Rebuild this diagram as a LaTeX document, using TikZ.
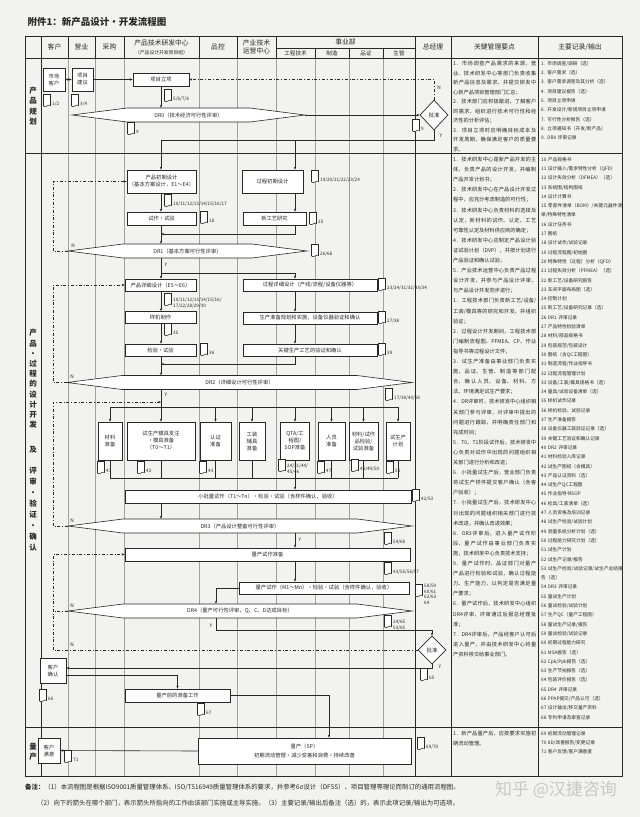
\documentclass[tikz,border=0pt]{standalone}
\usepackage{fontspec}
\setmainfont{Noto Sans CJK SC}
\XeTeXlinebreaklocale "zh"
\XeTeXlinebreakskip = 0pt plus 1pt
\usepackage{xcolor}
\usepackage{tikz}
\usetikzlibrary{shapes.geometric, arrows.meta, positioning, calc}
\definecolor{paper}{RGB}{242,242,240}
\definecolor{ink}{RGB}{40,40,40}
\definecolor{rulegray}{RGB}{160,160,160}
\definecolor{wmark}{RGB}{200,200,200}
\tikzset{
  flowbox/.style={rectangle, draw=ink, fill=white, line width=0.7pt,
    align=center, inner sep=0pt, text=ink, font=\fontsize{5.3}{7}\selectfont},
  drbox/.style={rectangle, inner sep=0pt, minimum height=14pt,
    text=ink, font=\fontsize{5.3}{7}\selectfont},
  approve/.style={diamond, draw=ink, fill=white, line width=0.7pt,
    minimum width=28pt, minimum height=28pt, inner sep=0pt,
    text=ink, font=\fontsize{5.5}{7}\selectfont},
  arrow/.style={-{Stealth[length=3pt,width=2.4pt]}, line width=0.6pt, color=ink},
  twoway/.style={{Stealth[length=3pt,width=2.4pt]}-{Stealth[length=3pt,width=2.4pt]},
    line width=0.6pt, color=ink},
  line/.style={line width=0.6pt, color=ink},
  loopline/.style={-{Stealth[length=3pt,width=2.4pt]}, line width=0.6pt,
    color=ink, dash dot},
  hdr/.style={text=ink, align=center, inner sep=0pt, font=\fontsize{6.8}{8.6}\selectfont},
  subhdr/.style={text=ink, align=center, inner sep=0pt, font=\fontsize{5.6}{7}\selectfont},
  phase/.style={text=ink, align=center, inner sep=0pt, font=\fontsize{7.5}{10.5}\selectfont\bfseries},
  doclbl/.style={anchor=west, text=ink, align=left, inner sep=0.5pt,
    font=\fontsize{4.6}{5.6}\selectfont},
  yn/.style={text=ink, inner sep=0.5pt, font=\fontsize{4.8}{5}\selectfont},
  keytext/.style={anchor=north west, text=ink, text width=83pt, align=justify,
    inner sep=0pt, font=\fontsize{5.2}{9.5}\selectfont},
  rectext/.style={anchor=north west, text=ink, text width=82pt, align=left,
    inner sep=0pt, font=\fontsize{4.7}{9.3}\selectfont},
  docu/.pic={\draw[line width=0.55pt, draw=ink, fill=white]
    (-3.5,-6.5) -- (3.5,-6.5) -- (3.5,4.5) .. controls (1.5,2.5) and (-1,7.5) .. (-3.5,5) -- cycle;}
}
% DR review shape: name, left, right, y, text
\newcommand{\drshape}[5]{%
  \draw[line, fill=white] (#2,#4) -- (#2+55,#4-7) -- (#3-55,#4-7) -- (#3,#4)
    -- (#3-55,#4+7) -- (#2+55,#4+7) -- cycle;
  \node[drbox, minimum width={(#3-#2)*1pt}] (#1) at ({(#2+#3)/2},#4) {#5};
}
% record icon: name, x, y, label
\newcommand{\docnote}[4]{%
  \pic at (#2,#3) {docu};
  \node[doclbl] (#1) at (#2+4.5,#3+3) {#4};
}

\begin{document}
\begin{tikzpicture}[x=1pt, y=-1pt]
  \fill[paper] (0,0) rectangle (640,817);
  \useasboundingbox (0,0) rectangle (640,817);

  \node[anchor=west, text=ink, font=\fontsize{9.5}{11}\selectfont\bfseries] (title) at (24,22) {附件1：新产品设计・开发流程图};

  % Table frame and rules
  \foreach \x in {68,95,124,199,237,276,315,349,383} \draw[thin, rulegray] (\x,58) -- (\x,776);
  \draw[line width=0.9pt, ink] (25,36) rectangle (622,776);
  \foreach \y in {58,153,727} \draw[line width=0.7pt, ink] (25,\y) -- (622,\y);
  \draw[line] (276,48) -- (415,48);
  \foreach \x in {68,95,124,199,237,276} \draw[line] (\x,36) -- (\x,58);
  \foreach \x in {315,349,383} \draw[line] (\x,48) -- (\x,58);
  \foreach \x in {41,415,451,538} \draw[line width=0.7pt, ink] (\x,36) -- (\x,776);

  % Header
  \node[hdr] (hcust) at (54.5,47) {客户};
  \node[hdr] (hsale) at (81.5,47) {营业};
  \node[hdr] (hbuy) at (109.5,47) {采购};
  \node[hdr] (hrd) at (161.5,42.5) {产品技术研发中心};
  \node[subhdr, font=\fontsize{4.8}{6}\selectfont] (hrdsub) at (161.5,52.5) {（产品设计开发项目组）};
  \node[hdr] (hqc) at (218,47) {品控};
  \node[hdr] (hops) at (256.5,47) {产业技术\\运营中心};
  \node[hdr] (hbu) at (345.5,42) {事业部};
  \node[subhdr] (heng) at (295.5,53) {工程技术};
  \node[subhdr] (hmfg) at (332,53) {制造};
  \node[subhdr] (hqa) at (366,53) {品证};
  \node[subhdr] (hpc) at (399,53) {生管};
  \node[hdr] (hgm) at (433,47) {总经理};
  \node[hdr] (hkey) at (494.5,47) {关键管理要点};
  \node[hdr] (hrec) at (580,47) {主要记录/输出};

  % Phase labels
  \node[phase] (ph1) at (33,106) {产\\品\\规\\划};
  \node[phase, font=\fontsize{7.5}{10.2}\selectfont\bfseries] (ph2a) at (33,379) {产\\品\\・\\过\\程\\的\\设\\计\\开\\发};
  \node[phase] (ph2b) at (33,450) {及};
  \node[phase, font=\fontsize{7.5}{11}\selectfont\bfseries] (ph2c) at (33,509) {评\\审\\・\\验\\证\\・\\确\\认};
  \node[phase] (ph3) at (33,752) {量\\产};

  \coordinate (colA) at (161,0);
  \coordinate (colB) at (295,0);
  \coordinate (colC) at (216,0);
  \coordinate (lx) at (53,0);

  % Product planning
  \node[flowbox, minimum width=22pt, minimum height=23pt] (mkt) at (54,79.5) {市场\\客户};
  \node[flowbox, minimum width=21pt, minimum height=23pt] (sug) at (82.5,79.5) {项目\\建议};
  \node[flowbox, minimum width=56pt, minimum height=13pt] (proj) at (161,79.5) {项目立项};
  \drshape{dr0}{72}{305}{115}{DR0（技术经济可行性评审）}
  \node[approve, minimum height=30pt] (appr) at (434,115) {批准};
  \coordinate (yrow) at (0,140);

  \draw[twoway] (mkt) -- (sug);
  \draw[arrow] (sug) -- (proj);
  \draw[arrow] (proj) -- (proj |- dr0.north);
  \draw[arrow] (dr0.east) -- (appr.west);
  \draw[loopline] (appr.north) |- (proj.east);
  \node[yn] (n0) at (439,88) {N};
  \node[yn] (y0) at (441,136) {Y};

  \docnote{d12}{47}{101}{1/2}
  \docnote{d34}{75}{101}{3/4}
  \docnote{d58}{168}{96}{5/6/7/8}
  \docnote{d9a}{131}{129}{9}
  \docnote{d9b}{416}{126}{9}

  % Design & development: initial design
  \node[flowbox, minimum width=69pt, minimum height=23pt] (pinit) at (161.5,181.5) {产品初期设计\\（基本方案设计，E1～E4）};
  \node[flowbox, minimum width=61pt, minimum height=23pt] (cinit) at (272.5,181.5) {过程初期设计};
  \node[flowbox, minimum width=69pt, minimum height=13pt] (ptry) at (161.5,218.5) {试作・试验};
  \node[flowbox, minimum width=63pt, minimum height=13pt] (cnew) at (274.5,218.5) {新工艺研究};
  \drshape{dr1}{68}{307}{251}{DR1（基本方案可行性评审）}
  \coordinate (j1) at (0,234);

  \draw[line] (appr.south) |- (colA |- yrow);
  \draw[arrow] (colA |- yrow) -- (colA |- pinit.north);
  \draw[arrow] (colB |- yrow) -- (colB |- cinit.north);
  \draw[arrow] (colA |- pinit.south) -- (colA |- ptry.north);
  \draw[arrow] (colA |- ptry.south) -- (colA |- dr1.north);
  \draw[arrow] (colB |- cinit.south) -- (colB |- cnew.north);
  \draw[arrow] (colB |- cnew.south) |- (colA |- j1);
  \draw[loopline] (dr1.west) -- (lx |- dr1.west) |- (pinit.west);
  \node[yn] (n1) at (73,246) {N};
  \node[yn] (y1) at (166,265) {Y};

  \docnote{d10}{168}{201}{10/11/12/13/14/15/16/17}
  \docnote{d19}{315}{177}{19/20/21/22/23/24}
  \docnote{d18}{204}{218}{18}
  \docnote{d25}{313}{219}{25}
  \docnote{d26}{315}{251}{26/68}

  % Design & development: detailed design
  \node[flowbox, minimum width=71pt, minimum height=12pt] (pdet) at (160.5,285) {产品详细设计（E5～E6）};
  \node[flowbox, minimum width=134pt, minimum height=12pt] (cdet) at (310,285) {过程详细设计（产线/流程/设备仪器等）};
  \node[flowbox, minimum width=71pt, minimum height=12pt] (psam) at (160.5,317.5) {样机制作};
  \node[flowbox, minimum width=71pt, minimum height=12pt] (ptest) at (160.5,350) {检验・试验};
  \node[flowbox, minimum width=134pt, minimum height=12pt] (cprep) at (310,318) {生产准备规划和实施，设备仪器验证和确认};
  \node[flowbox, minimum width=134pt, minimum height=12pt] (ckey) at (310,350) {关键生产工艺的验证和确认};
  \drshape{dr2}{67}{412}{382.5}{DR2（详细设计可行性评审）}
  \coordinate (fork2) at (0,273);
  \coordinate (j2) at (0,364);

  \draw[arrow] (colA |- dr1.south) -- (colA |- pdet.north);
  \draw[arrow] (colA |- fork2) -| (colB |- cdet.north);
  \draw[arrow] (colA |- pdet.south) -- (colA |- psam.north);
  \draw[arrow] (colA |- psam.south) -- (colA |- ptest.north);
  \draw[arrow] (colA |- ptest.south) -- (colA |- dr2.north);
  \draw[arrow] (colB |- cdet.south) -- (colB |- cprep.north);
  \draw[arrow] (colB |- cprep.south) -- (colB |- ckey.north);
  \draw[arrow] (colB |- ckey.south) |- (colA |- j2);
  \draw[loopline] (dr2.west) -- (lx |- dr2.west) |- (pdet.west);
  \node[yn] (n2) at (72,377) {N};
  \node[yn] (y2) at (166,395) {Y};

  \docnote{d10b}{168}{300}{10/11/12/13/14/15/16/\\17/22/28/29/30}
  \docnote{d23}{382}{285}{23/24/31/32/33/34}
  \docnote{d35}{168}{330}{35}
  \docnote{d36}{204}{350}{36}
  \docnote{d27}{382}{318}{27/38}
  \docnote{d39}{382}{350}{39}
  \docnote{d40}{389}{395}{17/38/40/68}

  % Trial production preparation
  \node[flowbox, minimum width=24pt, minimum height=38pt] (b1) at (110,441) {材料\\准备};
  \node[flowbox, minimum width=68pt, minimum height=38pt] (b2) at (161,441) {试生产模具发注\\・模具准备\\（T0～T1）};
  \node[flowbox, minimum width=31pt, minimum height=38pt] (b3) at (215.5,441) {认证\\准备};
  \node[flowbox, minimum width=26pt, minimum height=38pt] (b4) at (252,441) {工装\\辅具\\准备};
  \node[flowbox, minimum width=29pt, minimum height=38pt] (b5) at (295,441) {QTA/工\\程图/\\SOP准备};
  \node[flowbox, minimum width=27pt, minimum height=38pt] (b6) at (331.5,441) {人员\\准备};
  \node[flowbox, minimum width=29pt, minimum height=38pt] (b7) at (363.5,441) {材料/试作\\品检验/\\试验准备};
  \node[flowbox, minimum width=24pt, minimum height=38pt] (b8) at (398,441) {试生产\\计划};
  \coordinate (dist) at (0,407);
  \coordinate (coll) at (0,478);
  \coordinate (j3) at (0,402);

  \draw[line] (colA |- dr2.south) -- (colA |- dist);
  \draw[line] (b1.north |- dist) -- (b8.north |- dist);
  \foreach \b in {b1,b2,b3,b4,b5,b6,b7,b8} {
    \draw[arrow] (\b.north |- dist) -- (\b.north);
    \draw[line] (\b.south) -- (\b.south |- coll);
  }
  \draw[line] (b1.south |- coll) -- (b8.south |- coll);

  \docnote{d41}{101}{468}{41}
  \docnote{d42}{141}{468}{42}
  \docnote{d43}{203}{468}{43}
  \docnote{d44}{282}{466}{24/31/44/\\45/46}
  \docnote{d47}{321}{468}{47}
  \docnote{d48}{355}{466}{48/49/50}
  \docnote{d51}{390}{468}{51}

  % Small batch and mass trial
  \node[flowbox, minimum width=286pt, minimum height=13pt] (small) at (268,496.5) {小批量试作（T1～Tn）・检验・试验（含样件确认，验收）};
  \drshape{dr3}{68}{412}{526}{DR3（产品设计整备可行性评审）}
  \node[flowbox, minimum width=285pt, minimum height=13pt] (mprep) at (267.5,554.5) {量产试作准备};
  \node[flowbox, minimum width=170pt, minimum height=12pt] (mtrial) at (324,588) {量产试作（M1～Mn）・检验・试验（含样件确认，验收）};
  \drshape{dr4}{68}{412}{611}{DR4（量产可行性评审，Q、C、D达成目标）}
  \node[approve] (fin) at (432,650) {批准};
  \coordinate (yrow4) at (0,630);

  \draw[arrow] (colB |- coll) -- (colB |- small.north);
  \draw[arrow] (colA |- small.south) -- (colA |- dr3.north);
  \draw[loopline] (dr3.west) -- (lx |- dr3.west) |- (colA |- j3);
  \draw[arrow] (colB |- dr3.south) -- (colB |- mprep.north);
  \draw[arrow] (colB |- mprep.south) -- (colB |- mtrial.north);
  \draw[arrow] (mtrial.west) -| (colC |- dr4.north);
  \draw[line, dash dot] (dr4.west) -- (lx |- dr4.west);
  \draw[arrow] (colC |- dr4.south) |- (fin.north |- yrow4) -- (fin.north);
  \draw[loopline] (fin.west) -- (lx |- fin.west) |- (mprep.west);
  \node[yn] (n3) at (72,521) {N};
  \node[yn] (y3) at (300,540) {Y};
  \node[yn] (n4) at (72,606) {N};
  \node[yn] (y4) at (211,626) {Y};
  \node[yn] (n5) at (72,645) {N};
  \node[yn] (y5) at (440,667) {Y};

  \docnote{d53}{416}{496}{42/53}
  \docnote{d54}{388}{539}{54/68}
  \docnote{d55}{388}{569}{43/55/56/57}
  \docnote{d58b}{419}{591}{58/59\\60/61\\62/63\\64}
  \docnote{d65}{388}{622}{24/65\\53/65}
  \docnote{d65b}{424}{675}{65}

  % Customer confirmation
  \node[flowbox, minimum width=26pt, minimum height=25pt] (cc) at (53,670.5) {客户\\确认};
  \node[flowbox, minimum width=105pt, minimum height=13pt] (prep) at (177.5,695.5) {量产前的准备工作};
  \draw[arrow] (fin.south) |- ([yshift=2.5pt]cc.east);
  \draw[arrow] ([yshift=-4.5pt]cc.east) -| (prep.north);
  \docnote{d66}{43}{696}{66}
  \docnote{d67}{201}{710}{67}

  % Mass production
  \node[flowbox, minimum width=213pt, minimum height=26pt] (mass) at (304.5,751) {量产（SP）\\[2pt]初期流动管理・减少变差和浪费・持续改善};
  \node[flowbox, minimum width=22pt, minimum height=25pt] (sat) at (49,750.5) {客户\\满意};
  \draw[arrow] (prep.east) -| ([xshift=24.5pt]mass.north);
  \draw[arrow] (mass.west) -- (sat.east);
  \docnote{d71}{68}{757}{71}
  \docnote{d69}{421}{744}{69/70}

  % Key management points
  \node[keytext] (key1) at (453,61) {1．市场调查产品需求的来源，营业、技术研发中心等部门负责收集新产品信息及需求，并提交研发中心新产品项目管理部门汇总；\par 2．技术部门应积极跟进，了解客户的需求，组织进行技术可行性和经济性的分析评估；\par 3．项目立项时应明确目标成本及开发周期，确保满足客户的质量要求。};
  \node[keytext, font=\fontsize{5.2}{10.1}\selectfont] (key2) at (453,157) {1．技术研发中心是新产品开发的主体，负责产品的设计开发，并编制产品开发计划书；\par 2．技术研发中心在产品设计开发过程中，应充分考虑制造的可行性；\par 3．技术研发中心负责材料的选择及认定，新材料的试作、认定，工艺可靠性认定及材料供应商的确定；\par 4．技术研发中心应制定产品设计验证试验计划（DVP），并按计划进行产品验证和确认试验；\par 5．产业技术运营中心负责产品过程设计开发，并参与产品设计评审，与产品设计开发同步进行；\par 1．工程技术部门负责新工艺/设备/工装/模具等的研究和开发，并组织验证；\par 2．过程设计开发期间，工程技术部门编制流程图、PFMEA、CP、作业指导书等过程设计文件；\par 3．试生产准备由事业部门负责实施，品证、生管、制造等部门配合，确认人员、设备、材料、方法、环境满足试生产要求；\par 4．DR评审时，技术研发中心组织相关部门参与评审，对评审中提出的问题进行跟踪，并明确责任部门和完成时间；\par 5．T0、T1阶段试作后，技术研发中心负责对试作中出现的问题组织相关部门进行分析和改进；\par 6．小批量试生产后，营业部门负责将试生产样件提交客户确认（含客户验收）；\par 7．小批量试生产后，技术研发中心对出现的问题组织相关部门进行技术改进，并确认改进效果；\par 8．DR3评审后，进入量产试作阶段，量产试作由事业部门负责实施，技术研发中心负责技术支持；\par 9．量产试作时，品证部门对量产产品进行检验和试验，确认过程能力、生产能力，以判定是否满足量产要求；\par 6．量产试作后，技术研发中心组织DR4评审，评审通过后报总经理批准；\par 7．DR4评审后，产品经客户认可后进入量产，并由技术研发中心将量产资料移交给事业部门。};
  \node[keytext] (key3) at (453,731) {1．新产品量产后，应按要求实施初期流动管理。};

  % Main records / outputs
  \node[rectext] (rec1) at (541,61) {1. 市场调查/调研（选）\\2. 客户需求（选）\\3. 客户需求调查及其分析（选）\\4. 项目建议报告（选）\\5. 项目立项申请\\6. 开发设计/新规项目立项申请\\7. 可行性分析报告（选）\\8. 立项通知书（开发/新产品）\\9. DR0 评审记录};
  \node[rectext] (rec2) at (541,157) {10 产品规格书\\11 设计输入/需求特性分析（QFD）\\12 设计失效分析（DFMEA）（选）\\13 系统图/结构图纸\\14 设计计算书\\15 零部件清单（BOM）/关键元器件清单/特殊特性清单\\16 设计任务书\\17 图纸\\18 设计试作/试验记录\\19 过程流程图/初始图\\20 特殊特性（过程）分析（QFD）\\21 过程失效分析（PFMEA）（选）\\22 新工艺/设备研究报告\\23 车间平面布局图（选）\\24 控制计划\\25 新工艺/设备研究记录（选）\\26 DR1 评审记录\\27 产品特性检验清单\\28 材料/部品规格书\\29 包装规范/包装设计\\30 图纸（含QC工程图）\\31 制造流程/作业指导书\\32 过程流程管理计划\\33 设备/工装/模具规格书（选）\\34 量具/试验设备清单（选）\\35 样机试作记录\\36 样机检验、试验记录\\37 生产准备报告\\38 设备仪器工装验证记录（选）\\39 关键工艺验证和确认记录\\40 DR2 评审记录\\41 材料检验入库记录\\42 试生产图纸（含模具）\\43 产品认证资料（选）\\44 试生产QC工程图\\45 作业指导书SOP\\46 检具/工装清单（选）\\47 人员资格及培训记录\\48 试生产检验/试验计划\\49 测量系统分析计划（选）\\50 过程能力研究计划（选）\\51 试生产计划\\52 试生产记录/报告\\53 试生产检验/试验记录/试生产总结报告（选）\\54 DR3 评审记录\\55 量试生产计划\\56 量试检验/试验计划\\57 生产QC（量产工程图）\\58 量试生产记录/报告\\59 量试检验/试验记录\\60 初期过程能力研究\\61 MSA报告（选）\\62 Cpk/Ppk报告（选）\\63 生产节拍报告（选）\\64 包装评价报告（选）\\65 DR4 评审记录\\66 PPAP提交/产品认可（选）\\67 设计输出/移交量产资料\\68 专利申请及审查记录};
  \node[rectext] (rec3) at (541,731) {69 初期流动管理记录\\70 8D/改善报告/变更记录\\71 客户反馈/客户满意度};

  % Notes and watermark
  \node[anchor=west, text=ink, inner sep=0pt, font=\fontsize{6.4}{8}\selectfont] (note1) at (25,787) {\textbf{备注：}（1）本流程图是根据ISO9001质量管理体系、ISO/TS16949质量管理体系的要求，并参考6σ设计（DFSS）、项目管理等理论而制订的通用流程图。};
  \node[anchor=west, text=ink, inner sep=0pt, font=\fontsize{6.4}{8}\selectfont] (note2) at (37,803) {（2）向下的箭头在哪个部门，表示箭头所指向的工作由该部门实施或主导实施。（3）主要记录/输出后备注（选）的，表示此项记录/输出为可选项。};
  \node[text=wmark, inner sep=0pt, font=\fontsize{17}{20}\selectfont] (wm) at (556,790) {知乎 @汉捷咨询};
\end{tikzpicture}
\end{document}
